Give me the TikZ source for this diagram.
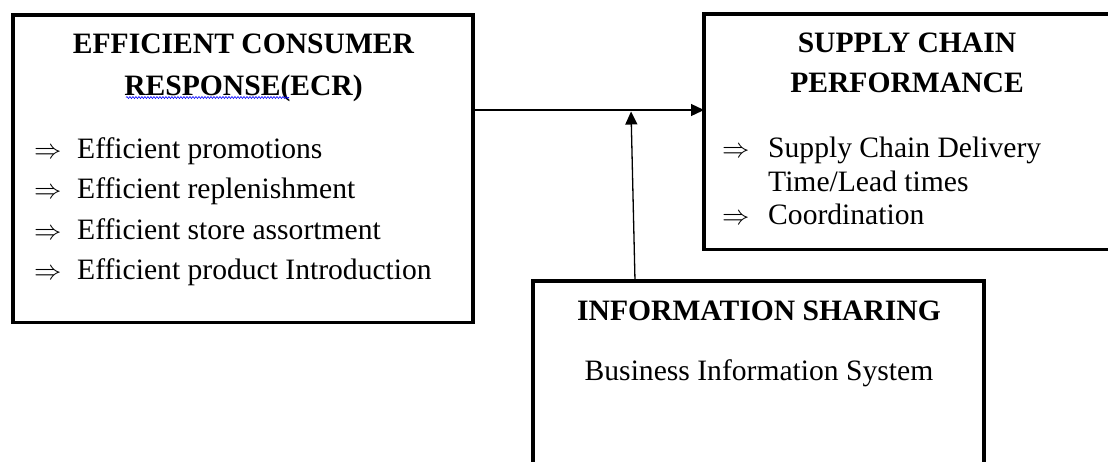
\documentclass[tikz,border=0pt]{standalone}
\usepackage{fontspec}
\setmainfont{Liberation Serif}
\usetikzlibrary{arrows.meta,decorations.pathmorphing}
\newcommand{\bigRA}{\scalebox{1.1}{\fontsize{24.88}{30}\selectfont$\Rightarrow$}}
\begin{document}
\begin{tikzpicture}[x=1pt,y=-1pt,
  box/.style={draw,line width=3.4pt,inner sep=0pt,outer sep=0pt},
  conn/.style={draw,line width=1.3pt,-{Triangle[length=13pt,width=12pt]}},
  title/.style={font=\fontsize{29.6}{34}\selectfont\bfseries,anchor=base,inner sep=0pt},
  body/.style={font=\fontsize{29.6}{34}\selectfont,anchor=base west,inner sep=0pt},
  bodyc/.style={font=\fontsize{29.6}{34}\selectfont,anchor=base,inner sep=0pt},
  arr/.style={anchor=base west,inner sep=0pt}]
\useasboundingbox (0,0) rectangle (1108,461);
\clip (0,0) rectangle (1108,461);
\fill[white] (0,0) rectangle (1108,461);
% boxes
\node[box,minimum width=460pt,minimum height=307.5pt] (ecr) at (243,168.75) {};
\node[box,minimum width=440pt,minimum height=235.5pt] (scp) at (924,131.75) {};
\node[box,minimum width=451pt,minimum height=240pt] (is) at (758.5,401) {};
% ECR text
\node[title] (ecr1) at (243.5,53) {EFFICIENT CONSUMER};
\node[title] (ecr2) at (243.5,95) {RESPONSE(ECR)};
\draw[blue,line width=0.6pt,decorate,decoration={snake,amplitude=1pt,segment length=3pt}] (126,97.5) -- (289,97.5);
\node[arr] (ea1) at (34,158) {\bigRA};
\node[body] (e1) at (77,158) {Efficient promotions};
\node[arr] (ea2) at (34,198.5) {\bigRA};
\node[body] (e2) at (77,198.5) {Efficient replenishment};
\node[arr] (ea3) at (34,239) {\bigRA};
\node[body] (e3) at (77,239) {Efficient store assortment};
\node[arr] (ea4) at (34,279.5) {\bigRA};
\node[body] (e4) at (77,279.5) {Efficient product Introduction};
% SCP text
\node[title] (s1) at (907,52) {SUPPLY CHAIN};
\node[title] (s2) at (907,92) {PERFORMANCE};
\node[arr] (sa1) at (722,157) {\bigRA};
\node[body] (sb1) at (768,157) {Supply Chain Delivery};
\node[body] (sb2) at (768,191) {Time/Lead times};
\node[arr] (sa2) at (722,224) {\bigRA};
\node[body] (sb3) at (768,224) {Coordination};
% IS text
\node[title] (i1) at (759,320) {INFORMATION SHARING};
\node[bodyc] (i2) at (759,380) {Business Information System};
% connectors
\coordinate (j) at (631,110);
\coordinate (isin) at (635,281);
\draw[conn] (ecr.east |- j) -- (scp.west |- j);
\draw[conn,shorten >=1.5pt] (isin) -- (j);
\end{tikzpicture}
\end{document}
